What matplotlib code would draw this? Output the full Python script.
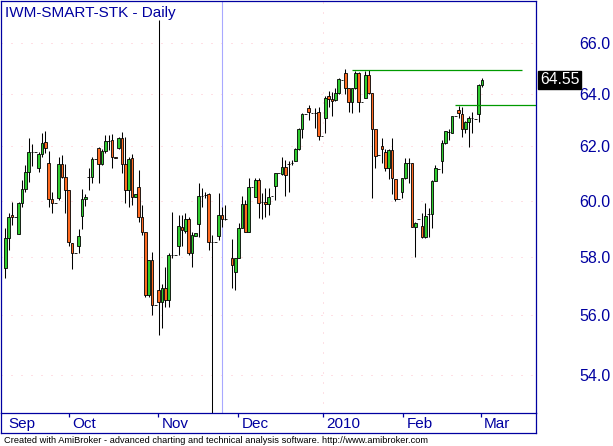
import numpy as np
import matplotlib
matplotlib.use("Agg")
import matplotlib.pyplot as plt
from matplotlib.lines import Line2D
from matplotlib.ticker import NullLocator
from matplotlib import transforms as mtransforms

plt.rcParams["font.family"] = ["Liberation Sans", "DejaVu Sans"]

NAVY = "#0000a0"
UP = "#2ecc2e"
DOWN = "#ff6a20"
GRID = "#ffc0cc"
nan = float("nan")

title = "IWM-SMART-STK - Daily"
footer = ("Created with AmiBroker - advanced charting and technical analysis "
          "software. http://www.amibroker.com")

# daily bars, one slot per bar (nan = empty slot)
opens = [57.60, 58.67, 59.48, 59.40, 58.80, 59.91, 60.43, 61.04, 61.78, 61.78,
         61.18, 61.71, 62.15, 61.40, 60.05, 59.90, 60.10, 61.33, 60.87, 60.39,
         58.47, 58.14, 58.39, 59.45, 60.06, 60.87, 60.87, 61.52, 61.93, 61.33,
         61.84, 62.22, 62.24, 61.62, 61.95, 62.30, 61.33, 60.39, 61.55, 60.15,
         60.51, 59.42, 58.88, 56.67, 57.88, 56.33, 56.86, 56.42, 56.93, 56.50,
         58.06, 58.06, 58.36, 59.06, 58.90, 59.33, 58.14, 58.74, 59.15, 60.18,
         60.20, 60.23, 58.53, 58.53, 58.74, 59.47, 59.33, nan, 57.96, 57.48,
         57.94, 59.00, 59.87, 58.88, 60.49, 60.12, 60.75, 59.96, 59.96, 59.88,
         60.18, 60.54, 61.00, 60.97, 61.24, 61.33, 61.37, 61.45, 61.90, 62.66,
         63.22, 63.44, 63.25, 63.27, 63.29, 62.40, 63.06, 63.92, 63.79, 63.76,
         64.03, 64.54, 64.80, 64.22, 63.67, 64.22, 64.80, 63.69, 63.85, 64.73,
         64.02, 62.66, 61.68, 62.02, 61.78, 61.20, 61.87, 60.78, 60.05, 60.31,
         60.81, 61.39, 61.37, 59.06, 59.33, 59.08, 58.68, 59.51, 59.51, 60.71,
         61.16, 61.45, 62.12, 62.53, 62.52, 63.15, 63.40, 63.22, 62.65, 62.94,
         63.06, 63.02, 63.22, 64.34]
highs = [59.01, 59.55, 59.95, 59.40, 59.95, 60.75, 61.31, 62.33, 62.09, 61.78,
         61.81, 62.52, 62.58, 61.83, 60.31, 59.90, 61.60, 61.68, 61.34, 60.39,
         58.47, 58.14, 58.97, 60.41, 60.24, 61.19, 61.62, 61.52, 61.99, 61.91,
         62.43, 62.43, 62.46, 61.62, 62.37, 62.56, 62.37, 61.62, 61.71, 60.23,
         61.12, 59.84, 58.88, 57.88, 58.18, 56.33, 66.92, 57.04, 57.65, 58.12,
         59.60, 58.06, 59.48, 59.48, 59.55, 59.42, 58.88, 58.83, 60.63, 60.45,
         60.31, 60.27, 58.77, 58.53, 60.27, 59.78, 59.86, nan, 58.62, 57.94,
         59.18, 60.17, 60.02, 60.81, 60.49, 60.82, 60.82, 60.27, 60.46, 60.45,
         60.18, 61.02, 61.00, 61.59, 61.49, 61.45, 61.49, 61.94, 62.70, 63.27,
         63.22, 63.56, 63.25, 63.47, 63.51, 62.40, 63.91, 64.11, 64.08, 64.22,
         64.61, 64.54, 64.97, 64.23, 64.23, 64.89, 64.86, 63.69, 64.89, 64.93,
         64.03, 62.66, 61.68, 62.33, 61.90, 61.91, 62.33, 60.79, 60.05, 60.82,
         61.55, 61.57, 61.38, 59.23, 59.33, 59.54, 59.92, 59.74, 60.75, 61.31,
         61.16, 62.24, 62.58, 62.66, 63.15, 63.15, 63.53, 63.51, 62.96, 63.15,
         63.31, 63.02, 64.38, 64.61]
lows = [57.26, 58.24, 59.12, 59.40, 58.80, 59.77, 60.32, 60.68, 61.28, 61.78,
        61.06, 61.62, 61.75, 59.78, 59.54, 59.90, 60.02, 60.82, 59.56, 58.36,
        57.57, 58.14, 58.12, 58.97, 59.80, 60.39, 60.63, 61.52, 60.63, 61.31,
        61.75, 61.87, 61.18, 61.55, 61.91, 61.00, 59.90, 59.78, 59.84, 60.15,
        59.24, 58.77, 56.61, 56.61, 55.99, 56.33, 55.32, 55.55, 56.27, 56.27,
        57.95, 58.06, 58.06, 58.36, 58.84, 58.06, 57.65, 58.74, 58.71, 59.76,
        60.10, 58.22, 52.00, 58.53, 58.59, 59.06, 59.30, nan, 56.92, 56.84,
        57.94, 59.00, 58.87, 58.87, 60.49, 60.12, 59.36, 59.33, 59.42, 59.48,
        60.18, 60.02, 61.00, 60.94, 60.18, 60.33, 61.31, 61.45, 61.87, 62.33,
        63.22, 63.00, 63.25, 62.68, 62.24, 62.40, 62.49, 63.50, 63.16, 63.72,
        64.00, 64.54, 64.00, 63.29, 63.25, 64.18, 63.29, 63.69, 63.84, 63.98,
        60.08, 61.20, 61.68, 61.37, 61.08, 60.78, 60.24, 60.00, 60.05, 60.08,
        60.80, 60.63, 59.04, 58.00, 59.33, 58.65, 58.66, 58.71, 59.00, 60.71,
        61.16, 61.00, 62.09, 62.24, 62.51, 63.15, 63.06, 62.37, 62.49, 61.99,
        62.49, 63.02, 62.94, 64.27]
closes = [58.66, 59.42, 59.40, 59.40, 59.91, 60.43, 61.05, 61.78, 61.78, 61.78,
          61.71, 62.12, 61.93, 60.05, 59.90, 59.90, 61.33, 60.87, 60.39, 58.53,
          58.14, 58.14, 58.73, 60.06, 60.12, 60.87, 61.52, 61.52, 61.33, 61.83,
          62.20, 62.22, 61.62, 61.55, 62.30, 61.33, 60.39, 61.52, 60.15, 60.23,
          59.42, 58.88, 56.67, 57.88, 56.33, 56.33, 56.42, 56.93, 56.50, 58.06,
          58.06, 58.06, 59.08, 58.94, 59.33, 58.14, 58.77, 58.83, 60.17, 60.18,
          60.20, 58.53, 58.53, 58.53, 59.47, 59.33, 59.33, nan, 57.71, 57.94,
          59.00, 59.87, 58.88, 60.49, 60.49, 60.75, 59.92, 59.96, 59.88, 60.14,
          60.18, 61.00, 61.00, 61.24, 60.94, 61.33, 61.37, 61.90, 62.66, 63.22,
          63.22, 63.31, 63.25, 63.27, 62.40, 62.40, 63.86, 63.79, 63.72, 64.03,
          64.58, 64.54, 64.22, 63.67, 64.22, 64.80, 63.69, 63.69, 64.73, 64.02,
          62.66, 61.65, 61.68, 61.90, 61.20, 61.87, 60.84, 60.05, 60.05, 60.81,
          61.40, 61.39, 59.06, 59.20, 59.33, 58.68, 59.45, 59.51, 60.71, 61.18,
          61.16, 62.12, 62.58, 62.53, 63.15, 63.15, 63.25, 62.65, 62.94, 63.06,
          63.06, 63.02, 64.34, 64.55]

price_ticks = [54, 56, 58, 60, 62, 64, 66]
month_labels = ["Sep", "Oct", "Nov", "Dec", "2010", "Feb", "Mar"]
month_ticks = [0.0, 19.0, 45.9, 69.9, 95.2, 119.3, 142.6]
year_tick = 95.2
selected_bar = 65
# horizontal study lines: (price, first slot, last slot)
hlines = [(64.93, 104, 154.9), (63.57, 135, 159.2)]

o = np.array(opens)
h = np.array(highs)
l = np.array(lows)
c = np.array(closes)
x = np.arange(len(o))
ok = ~np.isnan(o)

fig = plt.figure(figsize=(6.13, 4.46), dpi=100)
ax = fig.add_axes([1 / 613, 33 / 446, 535 / 613, 412 / 446])
ax.set_yscale("log")
ax.set_xlim(-1.3, 159.2)
ax.set_ylim(52.77, 67.70)

dots = (0, (1, 9))
for p in price_ticks:
    ax.axhline(p, color=GRID, lw=0.72, ls=dots, zorder=0)
ax.axvline(year_tick, color=GRID, lw=0.72, ls=dots, zorder=0)
ax.axvline(selected_bar, color="#a8a8ff", lw=0.8, zorder=1)

ax.vlines(x[ok], l[ok], h[ok], color="black", lw=0.75, zorder=2)
body_lo = np.minimum(o, c)
body_h = np.abs(c - o)
cols = np.where(c >= o, UP, DOWN)
ax.bar(x[ok], body_h[ok], bottom=body_lo[ok], width=0.74, color=cols[ok],
       edgecolor="black", linewidth=0.6, zorder=3)

for p, x0, x1 in hlines:
    ax.hlines(p, x0, x1, color="#009a00", lw=0.9, zorder=4)

for s in ax.spines.values():
    s.set_color(NAVY)
    s.set_linewidth(0.9)

ax.yaxis.set_minor_locator(NullLocator())
ax.set_yticks(price_ticks)
ax.set_yticklabels([f"{p:.1f}" for p in price_ticks])
ax.yaxis.tick_right()
ax.tick_params(axis="y", length=0, pad=31.5, labelsize=11.5, labelcolor=NAVY)

ax.set_xticks(month_ticks[1:])
ax.set_xticklabels([])
ax.tick_params(axis="x", direction="out", length=3, width=0.9, color=NAVY)

xt = mtransforms.blended_transform_factory(ax.transData, ax.transAxes)
for pos, lab in zip(month_ticks, month_labels):
    ax.text(pos + 1.0, -0.0376, lab, transform=xt, ha="left", va="baseline",
            fontsize=11, color=NAVY)

# last value marker
yt = mtransforms.blended_transform_factory(ax.transAxes, ax.transData)
ax.text(1.0075, c[-1], f"{c[-1]:.2f}", transform=yt, ha="left", va="center",
        color="white", fontsize=11.3, zorder=6, clip_on=False,
        bbox=dict(boxstyle="square,pad=0.1", fc="black", ec="black"))

# date band frame
band = [([1 / 613, 536 / 613], [13 / 446, 13 / 446]),
        ([536 / 613, 536 / 613], [13 / 446, 33 / 446]),
        ([1 / 613, 1 / 613], [13 / 446, 33 / 446])]
for bx, by in band:
    fig.add_artist(Line2D(bx, by, color=NAVY, lw=0.9, transform=fig.transFigure))

fig.text(5 / 613, 1 - 17 / 446, title, fontsize=11, color=NAVY, va="baseline")
fig.text(4 / 613, 3 / 446, footer, fontsize=6.7, color="black", va="baseline")

fig.savefig("out.png", dpi=100)
